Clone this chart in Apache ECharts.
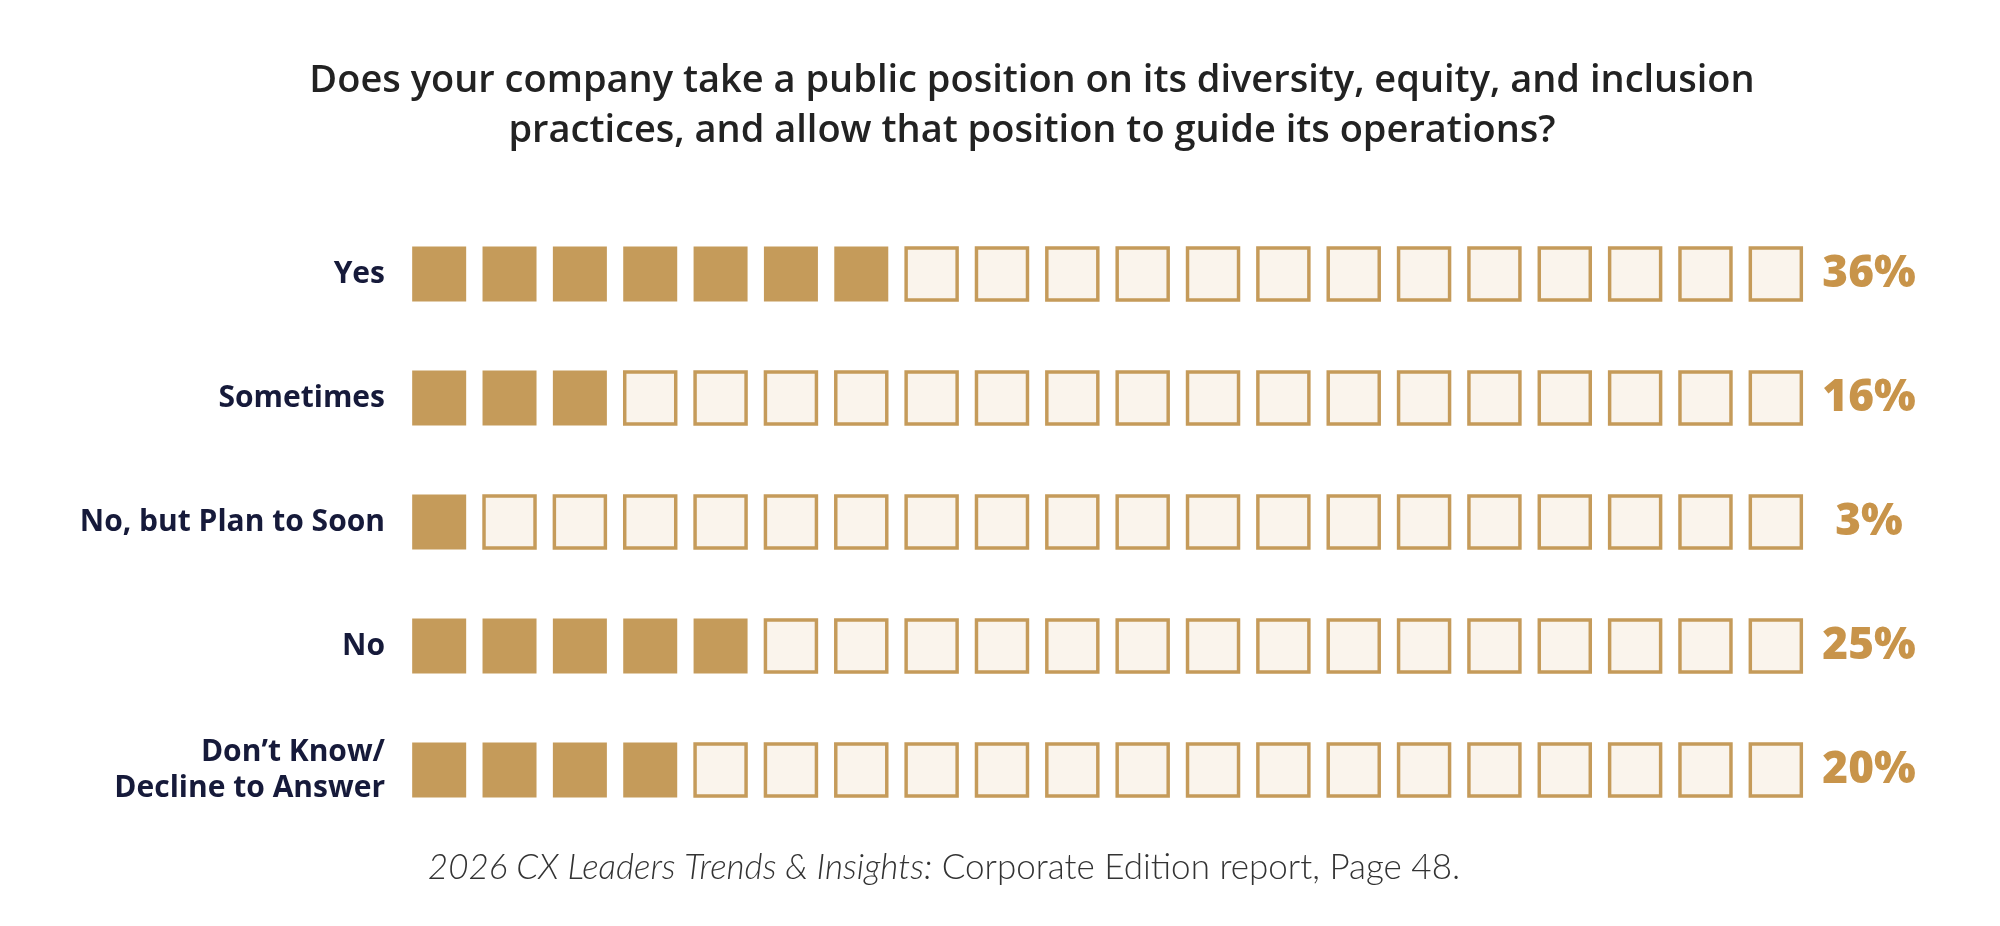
<!DOCTYPE html>
<html><head><meta charset="utf-8">
<script src="https://cdn.jsdelivr.net/npm/echarts@6/dist/echarts.min.js"></script>
<style>html,body{margin:0;padding:0;background:#fff}#c{width:2000px;height:926px}</style>
</head><body><div id="c"></div>
<script>
// ---- data ----
const categories = ['Yes', 'Sometimes', 'No, but Plan to Soon', 'No', 'Don\u2019t Know/\nDecline to Answer'];
const percentValues = [36, 16, 3, 25, 20];
const filledSquares = [7, 3, 1, 5, 4];
const squaresPerRow = 20;
const titleText = 'Does your company take a public position on its diversity, equity, and inclusion\npractices, and allow that position to guide its operations?';
const sourceItalic = '2026 CX Leaders Trends & Insights:';
const sourceNormal = ' Corporate Edition report, Page 48.';

// ---- build marks ----
const filledData = [], emptyData = [];
categories.forEach((c, r) => {
  for (let i = 0; i < squaresPerRow; i++) {
    (i < filledSquares[r] ? filledData : emptyData).push([i, r]);
  }
});

const GOLD = '#c59b5a';
const chart = echarts.init(document.getElementById('c'), null, {renderer: 'canvas'});
chart.setOption({
  backgroundColor: '#ffffff',
  animation: false,
  title: [{
    text: titleText,
    left: 1027, top: 51, textAlign: 'center',
    textStyle: {fontFamily: 'Open Sans', fontWeight: 600, fontSize: 38, lineHeight: 50, color: '#222222'}
  }, {
    text: '{i|' + sourceItalic + '}{n|' + sourceNormal + '}',
    left: 939, top: 845, textAlign: 'center',
    textStyle: {
      rich: {
        i: {fontFamily: 'Lato', fontStyle: 'italic', fontWeight: 300, fontSize: 35, color: '#333333'},
        n: {fontFamily: 'Lato', fontWeight: 300, fontSize: 35, color: '#333333'}
      }
    }
  }],
  grid: {left: 404, right: 189, top: 212, bottom: 926 - 832, containLabel: false},
  xAxis: {type: 'value', min: -0.5, max: squaresPerRow - 0.5, show: false},
  yAxis: [{
    type: 'category', data: categories, inverse: true,
    axisLine: {show: false}, axisTick: {show: false}, splitLine: {show: false},
    axisLabel: {
      margin: 19, fontFamily: 'Open Sans', fontWeight: 700, fontSize: 30, lineHeight: 36,
      color: '#161a3a', align: 'right'
    }
  }, {
    type: 'category', data: percentValues.map(v => v + '%'), inverse: true, position: 'right',
    axisLine: {show: false}, axisTick: {show: false}, splitLine: {show: false},
    axisLabel: {
      margin: 58, align: 'center', fontFamily: 'Open Sans', fontWeight: 800, fontSize: 44, color: '#c8944a'
    }
  }],
  series: [{
    type: 'scatter', data: emptyData, symbol: 'rect', symbolSize: [51, 52],
    itemStyle: {color: '#faf4ec', borderColor: GOLD, borderWidth: 3.5, opacity: 1},
    silent: true
  }, {
    type: 'scatter', data: filledData, symbol: 'rect', symbolSize: [54, 55],
    itemStyle: {color: GOLD, opacity: 1},
    silent: true
  }]
});
</script></body></html>
